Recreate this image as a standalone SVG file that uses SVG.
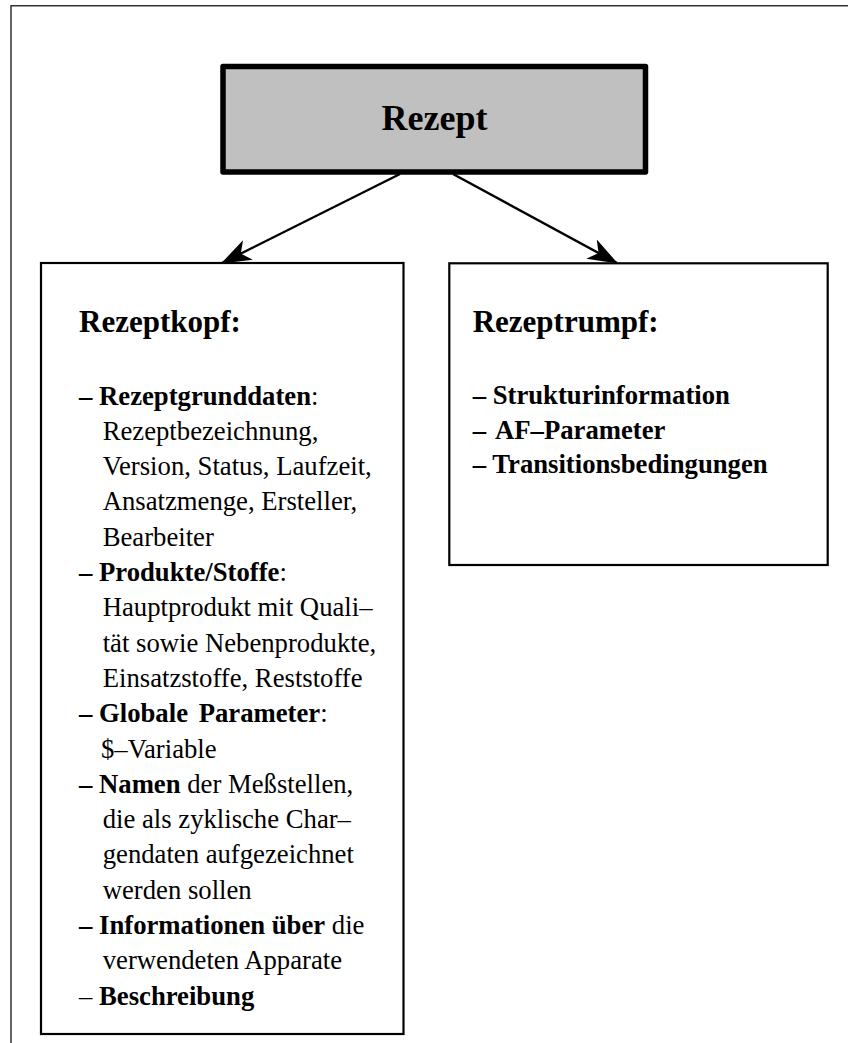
<svg xmlns="http://www.w3.org/2000/svg" width="848" height="1043" viewBox="0 0 848 1043">
  <style>
    .frame { fill: none; stroke: #333; stroke-width: 1.5; }
    .box { fill: #fff; stroke: #000; stroke-width: 2.2; }
    .root { fill: #c0c0c0; stroke: #000; stroke-width: 5.5; stroke-linejoin: round; }
    .edge { fill: none; stroke: #000; stroke-width: 2.4; }
    text { font-family: "Liberation Serif", "Times New Roman", serif; fill: #000; }
    .title { font-size: 36px; font-weight: bold; }
    .head { font-size: 31px; font-weight: bold; }
    .body { font-size: 26.7px; }
    .b { font-weight: bold; }
  </style>
  <defs>
    <marker id="arrow" viewBox="0 0 30 22" refX="29" refY="11" markerWidth="30" markerHeight="22" markerUnits="userSpaceOnUse" orient="auto">
      <path d="M0,0 L30,11 L0,22 L8,11 z" fill="#000"/>
    </marker>
  </defs>

  <!-- page frame -->
  <path class="frame" d="M11,1043 L11,5.7 L848,5.7"/>

  <!-- connectors -->
  <g id="connectors">
    <line class="edge" x1="400" y1="174" x2="222" y2="263" marker-end="url(#arrow)"/>
    <line class="edge" x1="453" y1="174" x2="617" y2="263" marker-end="url(#arrow)"/>
  </g>

  <!-- root node -->
  <g id="rezept">
    <rect class="root" x="223" y="66.5" width="422.5" height="105.5"/>
    <text class="title" x="434.5" y="130" text-anchor="middle">Rezept</text>
  </g>

  <!-- left node -->
  <g id="rezeptkopf">
    <rect class="box" x="41" y="263" width="362.5" height="771"/>
    <text class="head" x="79" y="332">Rezeptkopf:</text>
    <g class="body">
      <text class="body" x="79" y="404.5"><tspan class="b">– Rezeptgrunddaten</tspan>:</text>
      <text class="body" x="102.7" y="439.8">Rezeptbezeichnung,</text>
      <text class="body" x="102.7" y="475.1">Version, Status, Laufzeit,</text>
      <text class="body" x="102.7" y="510.4">Ansatzmenge, Ersteller,</text>
      <text class="body" x="102.7" y="545.7">Bearbeiter</text>
      <text class="body" x="79" y="581"><tspan class="b">– Produkte/Stoffe</tspan>:</text>
      <text class="body" x="102.7" y="616.3">Hauptprodukt mit Quali–</text>
      <text class="body" x="102.7" y="651.6">tät sowie Nebenprodukte,</text>
      <text class="body" x="102.7" y="686.9">Einsatzstoffe, Reststoffe</text>
      <text class="body" x="79" y="722.2"><tspan class="b">– Globale <tspan dx="4">Parameter</tspan></tspan>:</text>
      <text class="body" x="101" y="757.5">$–Variable</text>
      <text class="body" x="79" y="792.8"><tspan class="b">– Namen</tspan> der Meßstellen,</text>
      <text class="body" x="102.7" y="828.1">die als zyklische Char–</text>
      <text class="body" x="102.7" y="863.4">gendaten aufgezeichnet</text>
      <text class="body" x="102.7" y="898.7">werden sollen</text>
      <text class="body" x="79" y="934"><tspan class="b">– Informationen über</tspan> die</text>
      <text class="body" x="102.7" y="969.3">verwendeten Apparate</text>
      <text class="body" x="79" y="1004.6">– <tspan class="b">Beschreibung</tspan></text>
    </g>
  </g>

  <!-- right node -->
  <g id="rezeptrumpf">
    <rect class="box" x="449.3" y="263.3" width="378.4" height="301.7"/>
    <text class="head" x="472.7" y="331.7">Rezeptrumpf:</text>
    <text class="body b" x="472.7" y="404">– Strukturinformation</text>
    <text class="body b" x="472.7" y="438.5">–<tspan x="495">AF–Parameter</tspan></text>
    <text class="body b" x="472.7" y="473">– Transitionsbedingungen</text>
  </g>
</svg>
